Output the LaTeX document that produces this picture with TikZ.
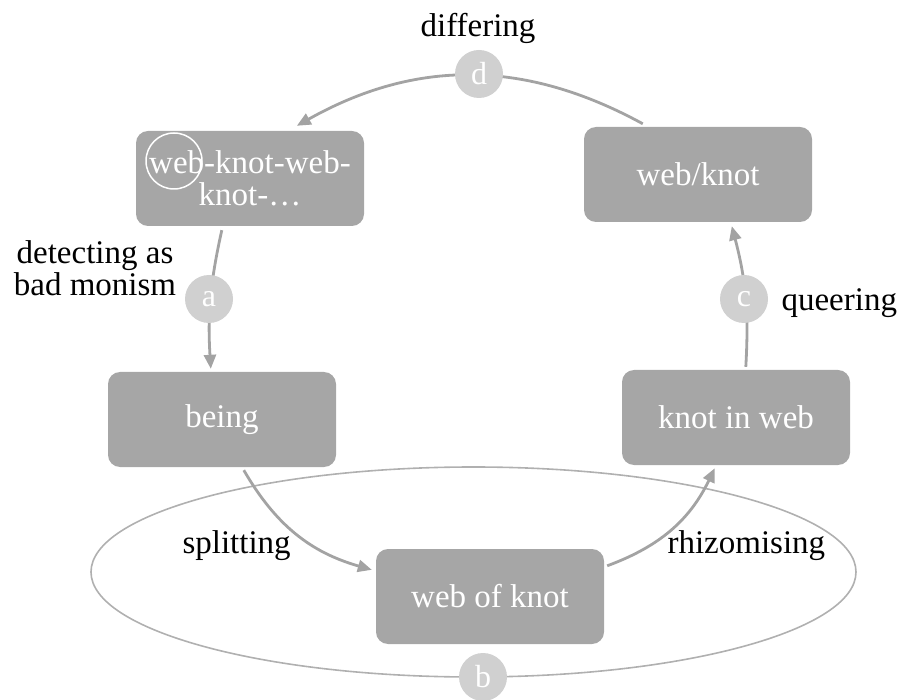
\documentclass[tikz,border=0pt]{standalone}
\usepackage{fontspec}
\setmainfont{Liberation Serif}
\usetikzlibrary{arrows.meta,calc}
\definecolor{boxgray}{HTML}{A6A6A6}
\definecolor{dotgray}{HTML}{D0D0D0}
\definecolor{linegray}{HTML}{A3A3A3}
\definecolor{ringgray}{HTML}{B0B0B0}
\tikzset{
  stagebox/.style={fill=boxgray, draw=none, rounded corners=12pt,
    minimum width=228pt, minimum height=95pt, inner sep=0pt,
    text=white, align=center, font=\fontsize{33}{32}\selectfont},
  dot/.style={circle, fill=dotgray, draw=none, minimum size=48pt, inner sep=0pt,
    text=white, font=\fontsize{32}{32}\selectfont},
  flow/.style={draw=linegray, line width=2.8pt,
    -{Triangle[length=14pt,width=12pt]}},
  caption/.style={text=black, align=center, font=\fontsize{33}{32}\selectfont}
}
\begin{document}
\begin{tikzpicture}[x=1pt, y=-1pt]
\useasboundingbox (0,0) rectangle (897,700);

% surrounding ellipse
\draw[ringgray, line width=1.6pt] (473.5,572) ellipse [x radius=382.5, y radius=105];

% stages
\node[stagebox] (chain) at (250,178.5) {web-knot-web-\\knot-\ldots};
\node[stagebox] (wk)    at (698,174.5) {web/knot};
\node[stagebox] (being) at (222,419.5) {being};
\node[stagebox] (kiw)   at (736,417.5) {knot in web};
\node[stagebox] (wok)   at (490,596.5) {web of knot};

% ring around the first "web"
\draw[white, line width=1.5pt] ($(chain.center)+(-76,-17.5)$) circle (28);

% transitions
\draw[flow] ([xshift=59pt,yshift=3pt]wk.north west) to[bend right=29] ([xshift=161pt,yshift=5pt]chain.north west);
\draw[flow] ([xshift=86pt,yshift=-4pt]chain.south west) to[bend right=8] ([xshift=103pt,yshift=3pt]being.north west);
\draw[flow] ([xshift=136pt,yshift=-3pt]being.south west) to[bend right=22] ([xshift=-4pt,yshift=-21pt]wok.north west);
\draw[flow] ([xshift=3pt,yshift=-17pt]wok.north east) to[bend right=22] ([xshift=93pt,yshift=-3pt]kiw.south west);
\draw[flow] ([xshift=124pt,yshift=3pt]kiw.north west) to[bend right=9] ([xshift=148pt,yshift=-4pt]wk.south west);

% markers
\node[dot] (d) at (479,74) {d};
\node[dot] (a) at (209,299) {a};
\node[dot] (c) at (744,299) {c};
\node[dot] (b) at (483,677) {b};

% captions
\node[caption, anchor=base] (ldiff) at (478,37) {differing};
\node[caption, anchor=base] (ldet) at (95,296) {detecting as\\bad monism};
\node[caption, anchor=base west] (lq) at (778,311) {queering};
\node[caption, anchor=base west] (ls) at (179,553) {splitting};
\node[caption, anchor=base west] (lr) at (664,553) {rhizomising};
\end{tikzpicture}
\end{document}
